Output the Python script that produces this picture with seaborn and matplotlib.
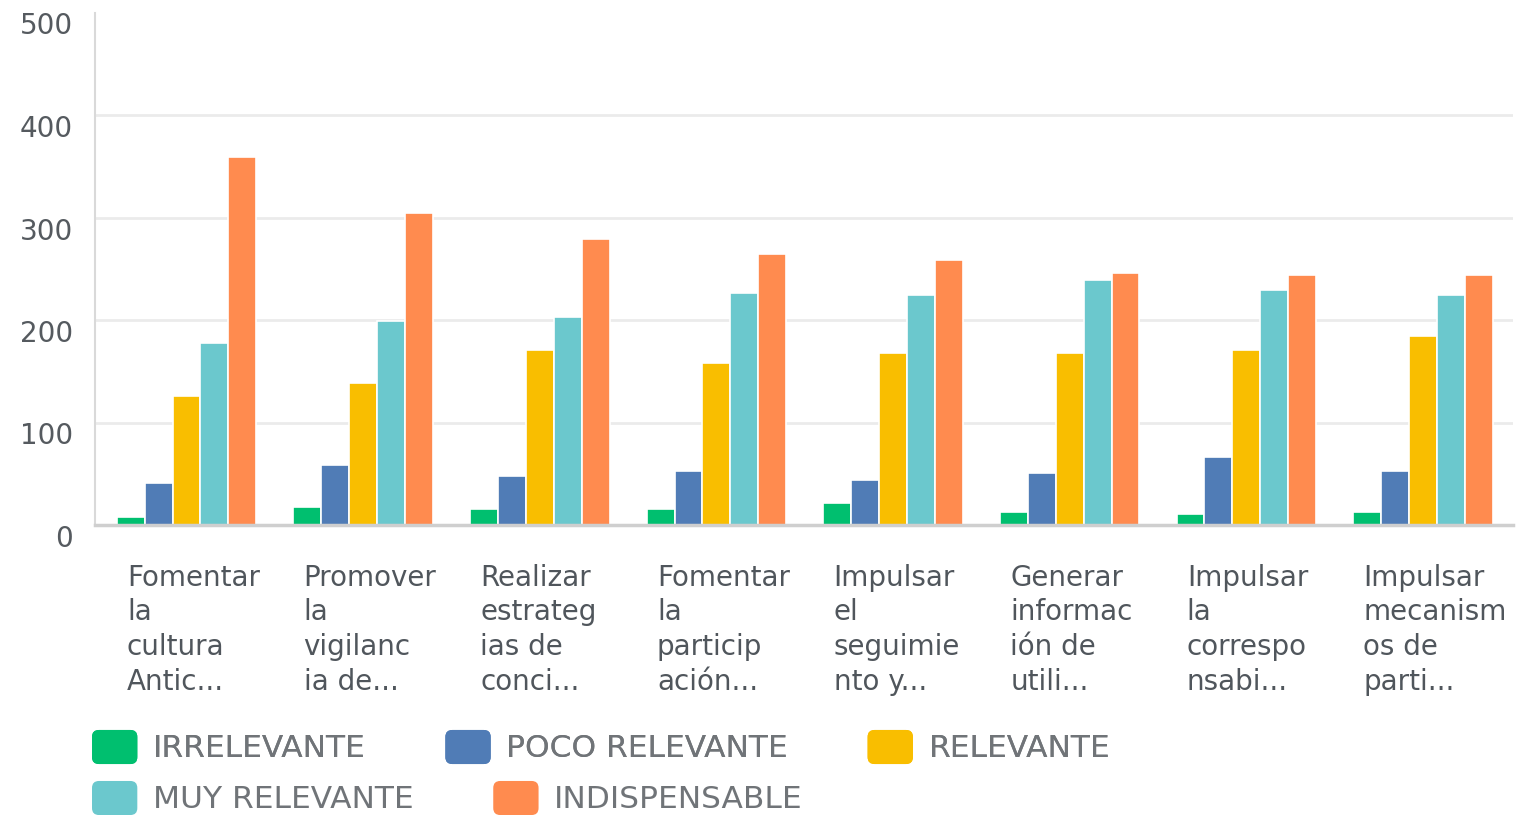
import matplotlib
matplotlib.use("Agg")
import matplotlib.pyplot as plt
import numpy as np
import pandas as pd
import seaborn as sns
from matplotlib.patches import FancyBboxPatch, Patch
from matplotlib.legend_handler import HandlerPatch
from matplotlib.transforms import ScaledTranslation

# Question labels (wrapped and truncated as displayed)
categories = [
    "Fomentar\nla\ncultura\nAntic...",
    "Promover\nla\nvigilanc\nia de...",
    "Realizar\nestrateg\nias de\nconci...",
    "Fomentar\nla\nparticip\nación...",
    "Impulsar\nel\nseguimie\nnto y...",
    "Generar\ninformac\nión de\nutili...",
    "Impulsar\nla\ncorrespo\nnsabi...",
    "Impulsar\nmecanism\nos de\nparti...",
]

levels = ["IRRELEVANTE", "POCO RELEVANTE", "RELEVANTE", "MUY RELEVANTE", "INDISPENSABLE"]

irrelevante = [8, 18, 16, 16, 21, 13, 11, 13]
poco_relevante = [41, 59, 48, 53, 44, 51, 66, 53]
relevante = [126, 139, 171, 158, 168, 168, 171, 184]
muy_relevante = [178, 199, 203, 226, 224, 239, 229, 224]
indispensable = [359, 304, 279, 264, 259, 246, 244, 244]

y_ticks = [0, 100, 200, 300, 400, 500]

colors = ["#00BF6F", "#507CB6", "#F9BE00", "#6BC8CD", "#FF8B4F"]

series = [irrelevante, poco_relevante, relevante, muy_relevante, indispensable]
df = pd.DataFrame(
    [
        {"pregunta": cat, "nivel": lvl, "respuestas": vals[i]}
        for lvl, vals in zip(levels, series)
        for i, cat in enumerate(categories)
    ]
)

sns.set_style("white")
plt.rcParams["font.family"] = ["DejaVu Sans"]

W, H = 1527, 815
fig = plt.figure(figsize=(W / 100, H / 100), dpi=100)
ax = fig.add_axes([95 / W, 1 - 525 / H, (1513 - 95) / W, (525 - 12.5) / H])

sns.barplot(
    data=df, x="pregunta", y="respuestas", hue="nivel",
    order=categories, hue_order=levels, palette=colors,
    width=0.79, saturation=1, edgecolor="white", linewidth=1.2,
    legend=False, ax=ax,
)

ax.set_ylim(0, 500)
ax.set_xlim(-0.518, 7.51)
ax.set_yticks(y_ticks)
ax.set_xlabel("")
ax.set_ylabel("")

ax.grid(axis="y", color="#ebebeb", linewidth=2)
ax.grid(axis="x", visible=False)
ax.set_axisbelow(True)
# no gridline along the top edge
ax.yaxis.get_gridlines()[-1].set_visible(False)

for s in ["top", "right"]:
    ax.spines[s].set_visible(False)
ax.spines["left"].set_color("#d9d9d9")
ax.spines["left"].set_linewidth(1.5)
ax.spines["bottom"].set_color("#cfcfcf")
ax.spines["bottom"].set_linewidth(2.5)

ax.tick_params(axis="y", length=0, pad=16, labelsize=20, labelcolor="#555a5f")
ax.tick_params(axis="x", length=0, pad=28, labelsize=20, labelcolor="#50565c")

for lab in ax.get_yticklabels():
    lab.set_transform(lab.get_transform() + ScaledTranslation(0, -11 / 100, fig.dpi_scale_trans))

for lab in ax.get_xticklabels():
    lab.set_horizontalalignment("left")
    lab.set_verticalalignment("top")
    lab.set_linespacing(1.3)
    lab.set_transform(lab.get_transform() + ScaledTranslation(-59.5 / 100, 0, fig.dpi_scale_trans))


class RoundedSquare(HandlerPatch):
    def create_artists(self, legend, orig_handle, xdescent, ydescent,
                       width, height, fontsize, trans):
        p = FancyBboxPatch(
            (-xdescent, -ydescent), width, height,
            boxstyle="round,pad=0,rounding_size=5",
            facecolor=orig_handle.get_facecolor(), edgecolor="none",
            transform=trans,
        )
        return [p]


handles = [Patch(facecolor=c) for c in colors]
legend_kw = dict(
    frameon=False, prop={"size": 22.5}, labelcolor="#707478",
    handlelength=1.45, handleheight=1.3, handletextpad=0.5,
    columnspacing=2.55, borderpad=0, borderaxespad=0,
    loc="center left", handler_map={Patch: RoundedSquare()},
)
leg1 = fig.legend(handles[:3], levels[:3], ncol=3,
                  bbox_to_anchor=(92 / W, 1 - 747 / H), **legend_kw)
fig.add_artist(leg1)
fig.legend(handles[3:], levels[3:], ncol=2,
           bbox_to_anchor=(92 / W, 1 - 798 / H), **legend_kw)

fig.savefig("out.png", dpi=100)
